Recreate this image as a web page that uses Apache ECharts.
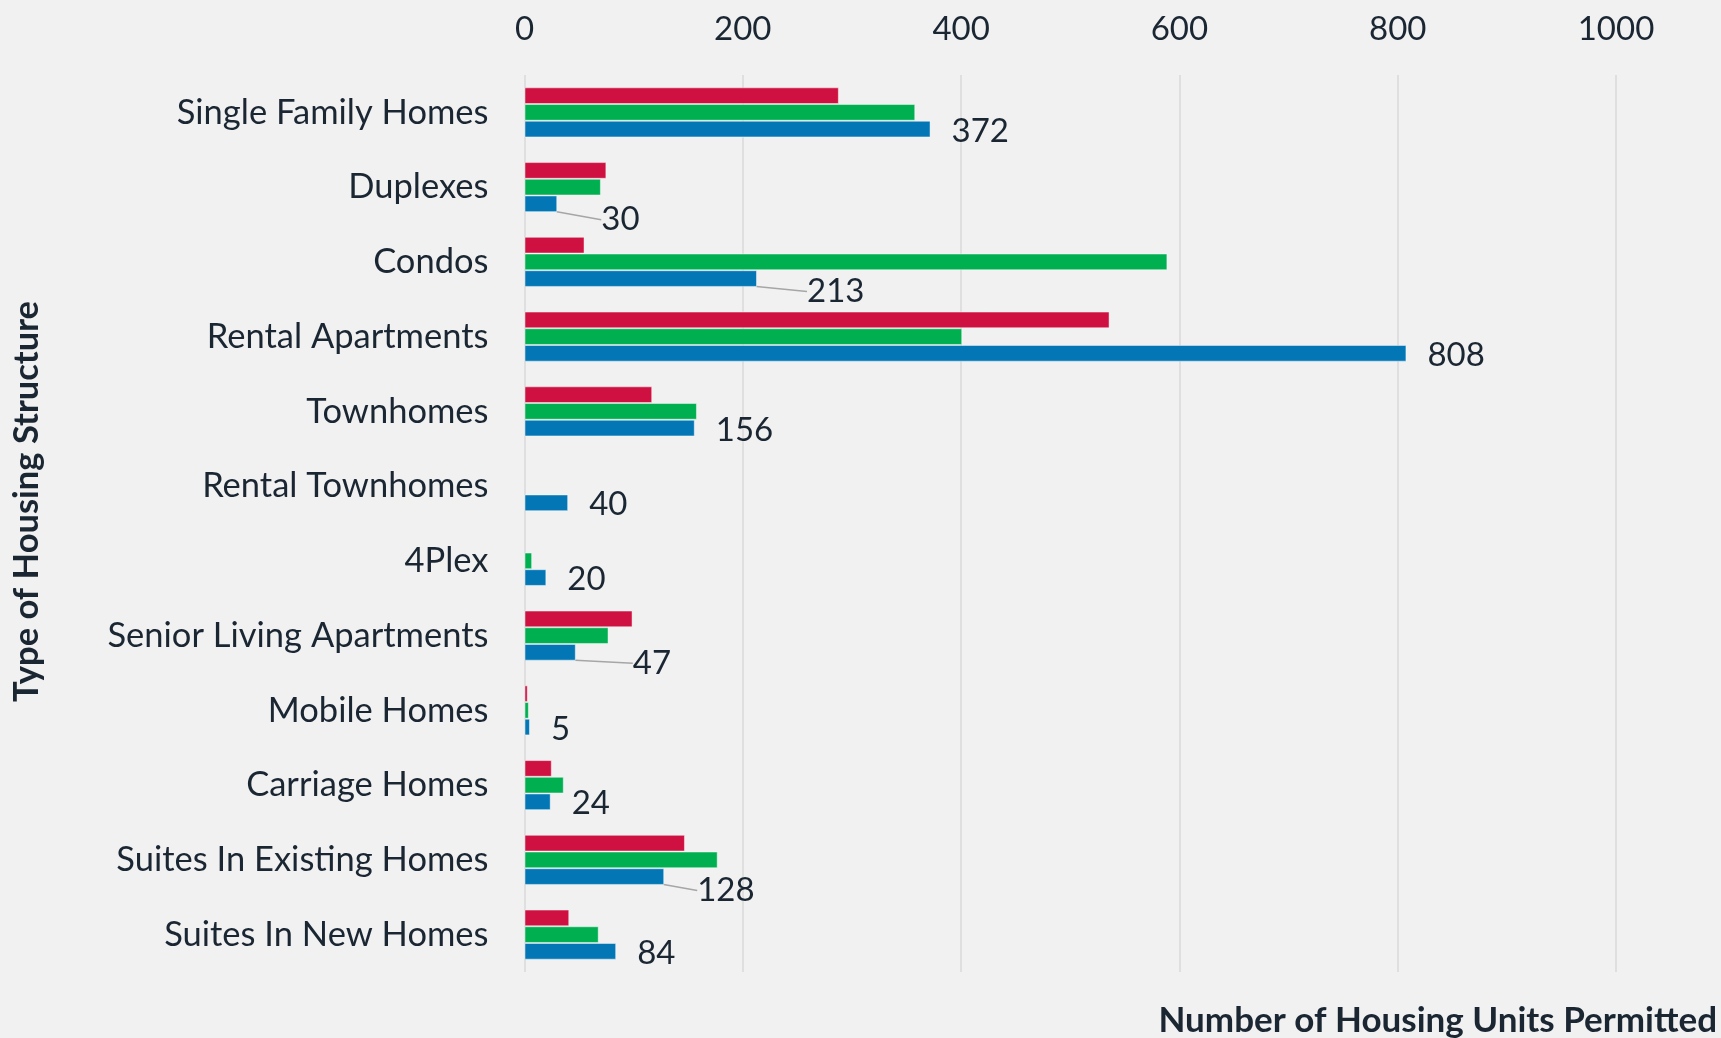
<!DOCTYPE html>
<html>
<head>
<meta charset="utf-8">
<script src="https://cdn.jsdelivr.net/npm/echarts@6/dist/echarts.min.js"></script>
<style>
  html, body { margin: 0; padding: 0; background: #f1f1f1; }
  #chart { width: 1721px; height: 1038px; }
</style>
</head>
<body>
<div id="chart"></div>
<script>
const categories = [
  'Single Family Homes',
  'Duplexes',
  'Condos',
  'Rental Apartments',
  'Townhomes',
  'Rental Townhomes',
  '4Plex',
  'Senior Living Apartments',
  'Mobile Homes',
  'Carriage Homes',
  'Suites In Existing Homes',
  'Suites In New Homes'
];
const redValues = [288, 75, 55, 536, 117, null, null, 99, 3, 25, 147, 41];
const greenValues = [358, 70, 589, 401, 158, null, 7, 77, 4, 36, 177, 68];
const blueValues = [372, 30, 213, 808, 156, 40, 20, 47, 5, 24, 128, 84];
const xTicks = { min: 0, max: 1000, interval: 200 };
const yTitle = 'Type of Housing Structure';
const xTitle = 'Number of Housing Units Permitted';

// labels that were dragged away from the bar end (shown with a leader line)
const movedLabels = { 1: [23, 14], 2: [29, 11], 7: [36, 9], 10: [12, 12] };

const FONT = 'Lato, "Open Sans", sans-serif';
const TEXT = '#1b2633';

const chart = echarts.init(document.getElementById('chart'));

const barBase = {
  type: 'bar',
  barGap: '0%',
  barCategoryGap: '33%',
  itemStyle: { borderColor: 'rgba(255,255,255,0.45)', borderWidth: 1 }
};

chart.setOption({
  backgroundColor: '#f1f1f1',
  animation: false,
  textStyle: { fontFamily: FONT },
  title: {
    text: xTitle,
    right: -1,
    top: 998,
    textStyle: { fontFamily: FONT, fontSize: 35, fontWeight: 'bold', color: TEXT }
  },
  grid: { left: 524.5, right: 105, top: 75, bottom: 66, containLabel: false, outerBoundsMode: 'none' },
  xAxis: {
    type: 'value',
    position: 'top',
    min: xTicks.min,
    max: xTicks.max,
    interval: xTicks.interval,
    axisLine: { show: false },
    axisTick: { show: false },
    splitLine: { show: true, lineStyle: { color: '#d9d9d9', width: 1.5 } },
    axisLabel: {
      fontFamily: FONT, fontSize: 33, color: TEXT, margin: 29,
      formatter: (v) => String(v)
    }
  },
  yAxis: {
    type: 'category',
    inverse: true,
    data: categories,
    axisLine: { show: false },
    axisTick: { show: false },
    axisLabel: { fontFamily: FONT, fontSize: 34.5, color: TEXT, margin: 36 },
    name: yTitle,
    nameLocation: 'middle',
    nameRotate: 90,
    nameGap: 480,
    nameTextStyle: {
      fontFamily: FONT, fontSize: 34.5, fontWeight: 'bold', color: TEXT,
      padding: [0, 0, 0, 44]
    }
  },
  series: [
    Object.assign({}, barBase, {
      name: 'Red',
      data: redValues,
      itemStyle: Object.assign({}, barBase.itemStyle, { color: '#ce1141' })
    }),
    Object.assign({}, barBase, {
      name: 'Green',
      data: greenValues,
      itemStyle: Object.assign({}, barBase.itemStyle, { color: '#00b050' })
    }),
    Object.assign({}, barBase, {
      name: 'Blue',
      data: blueValues.map((v, i) => ({
        value: v,
        labelLine: { show: !!movedLabels[i] }
      })),
      itemStyle: Object.assign({}, barBase.itemStyle, { color: '#0377b6' }),
      label: {
        show: true,
        position: 'right',
        distance: 21,
        fontFamily: FONT,
        fontSize: 33,
        color: TEXT
      },
      labelLine: { lineStyle: { color: '#a6a6a6', width: 1.5 } },
      labelLayout: (params) => {
        const m = movedLabels[params.dataIndex];
        return m ? { dx: m[0], dy: m[1] + 2 } : { dy: 2 };
      }
    })
  ]
});
</script>
</body>
</html>
